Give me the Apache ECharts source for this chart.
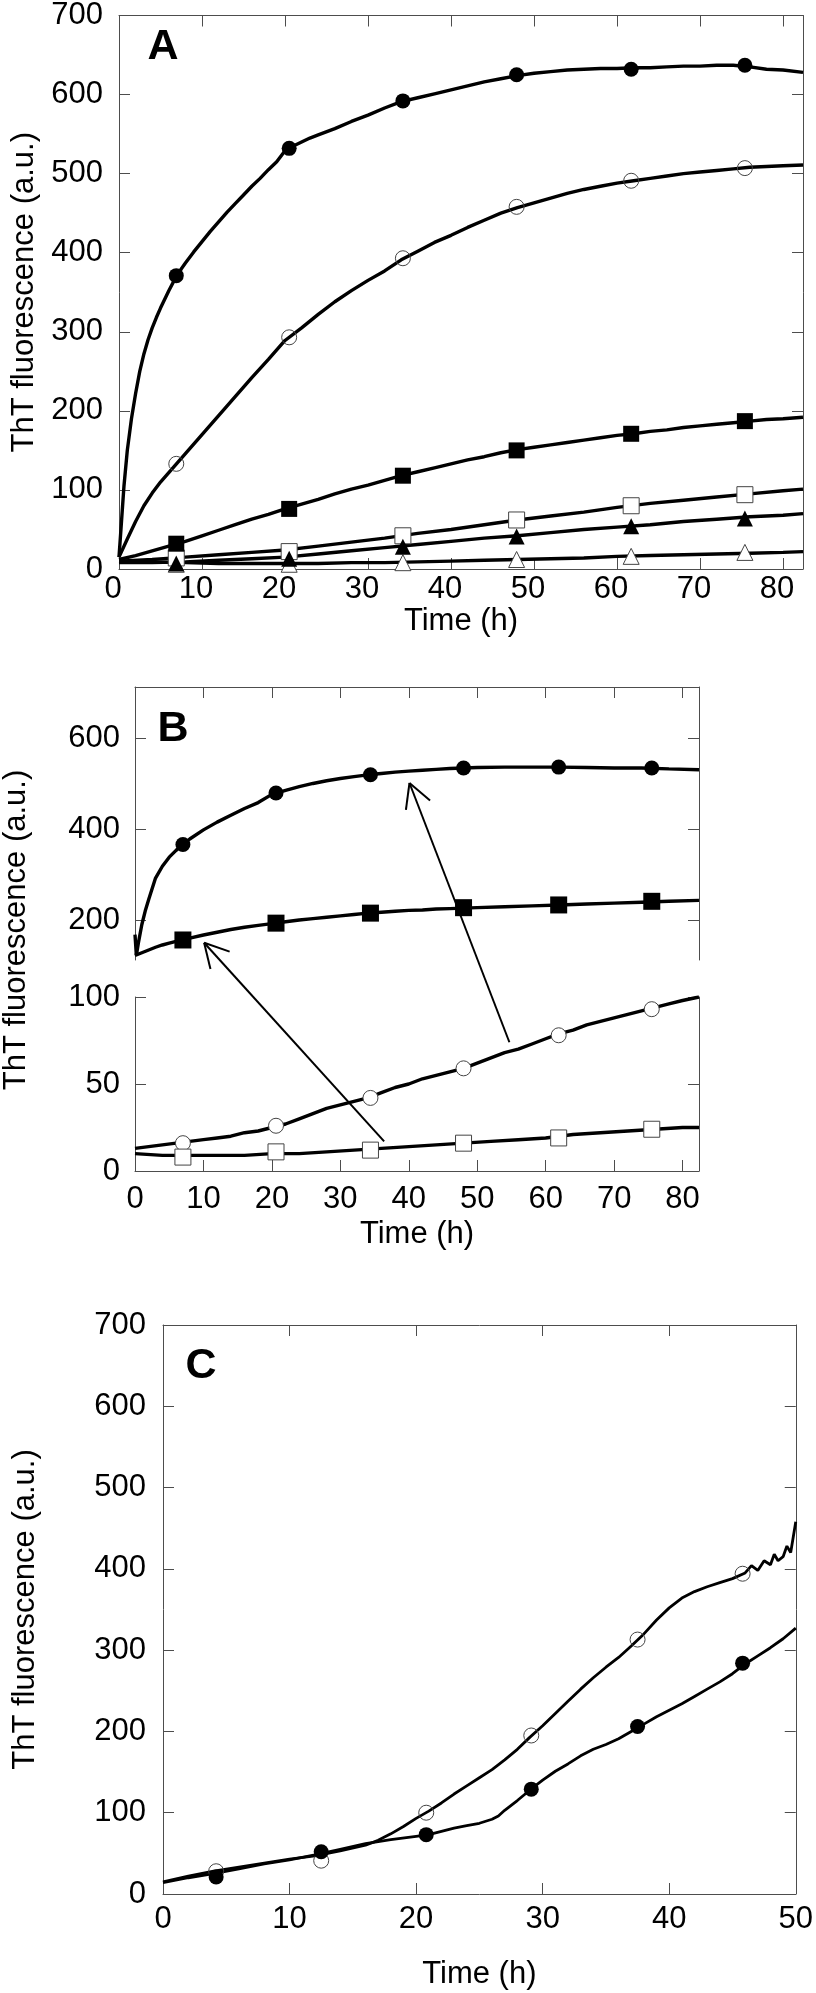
<!DOCTYPE html>
<html><head><meta charset="utf-8">
<script src="https://cdn.jsdelivr.net/npm/echarts@6/dist/echarts.min.js"></script>
<style>html,body{margin:0;padding:0;background:#fff}#c{width:816px;height:1993px}</style>
</head><body><div id="c"></div>
<script>
// ---------------- DATA ----------------
const AB_timeTicks = [0, 10, 20, 30, 40, 50, 60, 70, 80];
const A_yTicks = [0, 100, 200, 300, 400, 500, 600, 700];
const B_upperTicks = [200, 400, 600];
const B_lowerTicks = [0, 50, 100];
const C_timeTicks = [0, 10, 20, 30, 40, 50];
const C_yTicks = [0, 100, 200, 300, 400, 500, 600, 700];

// Panel A curves [time h, ThT a.u.]
const A_filledCircle = [[0,15],[0.3,60],[0.6,105],[1,150],[1.5,190],[2,222],[2.5,250],[3,272],[3.5,290],[4,305],[4.5,318],[5,330],[6,352],[7,372],[8,387],[9,401],[10,414],[11,427],[12,439],[13,451],[14,462],[15,473],[16,484],[17,494],[18,505],[19,515],[20,529],[21,535],[22,540],[23,545],[24,549],[26,557],[28,566],[30,574],[32,583],[34,591],[36,596],[38,601],[40,606],[42,611],[44,616],[46,620],[48,624],[50,627],[52,629],[54,631],[56,632],[58,633],[60,633],[62,634],[64,634],[66,635],[68,636],[70,636],[72,637],[74,637],[76,635],[78,632],[80,631],[82.4,628]];
const A_openCircle = [[0,15],[1,38],[2,60],[3,80],[4,96],[5,110],[6,122],[7,134],[8,146],[10,170],[12,194],[14,218],[16,242],[18,265],[20,289],[22,305],[24,322],[26,338],[28,352],[30,365],[32,377],[34,391],[36,402],[38,413],[40,422],[42,432],[44,441],[46,450],[48,457],[50,463],[52,469],[54,475],[56,480],[58,484],[60,488],[62,491],[64,494],[66,497],[68,500],[70,502],[72,504],[74,506],[76,508],[78,509],[80,510],[82.4,511]];
const A_filledSquare = [[0,12],[2,17],[4,23],[6,29],[8,35],[10,42],[12,49],[14,56],[16,63],[18,69],[20,76],[22,82],[24,88],[26,95],[28,101],[30,106],[32,112],[34,118],[36,123],[38,128],[40,133],[42,138],[44,142],[46,147],[48,151],[50,154],[52,157],[54,160],[56,163],[58,166],[60,169],[62,171],[64,174],[66,176],[68,179],[70,181],[72,183],[74,185],[76,187],[78,189],[80,190],[82.4,192]];
const A_openSquare = [[0,10],[4,12],[8,15],[12,18],[16,21],[20,24],[24,29],[28,34],[32,39],[36,45],[40,50],[44,56],[48,62],[52,67],[56,72],[60,78],[64,83],[68,87],[72,91],[76,95],[80,99],[82.4,101]];
const A_filledTriangle = [[0,8],[4,8],[8,9],[12,11],[16,13],[20,15],[24,19],[28,23],[32,27],[36,31],[40,35],[44,39],[48,42],[52,46],[56,50],[60,53],[64,56],[68,60],[72,63],[76,66],[80,68],[82.4,70]];
const A_openTriangle = [[0,10],[4,9],[8,8],[12,7],[16,7],[20,7],[24,7],[28,8],[32,8],[36,9],[40,10],[44,11],[48,12],[52,13],[56,14],[60,16],[64,17],[68,18],[72,19],[76,20],[80,21],[82.4,22]];
const A_markerTimes = [6.9, 20.5, 34.2, 47.9, 61.7, 75.4];
const A_fcMarkers = [371, 532, 592, 625, 632, 637];
const A_ocMarkers = [133, 293, 393, 458, 491, 507];
const A_fsMarkers = [32, 76, 118, 150, 171, 187];
const A_osMarkers = [14, 22, 42, 62, 80, 94];
const A_ftMarkers = [7, 13, 28, 41, 54, 64];
const A_otMarkers = [6, 6, 8, 12, 16, 21];

// Panel B curves (upper broken segment: filled symbols, lower: open symbols)
const B_filledCircle = [[0,168],[0.2,122],[0.5,150],[1,190],[1.5,220],[2,245],[3,292],[4,318],[5,338],[6,353],[7,366],[8,378],[10,398],[12,415],[14,430],[16,445],[18,458],[20,476],[22,485],[24,493],[26,500],[28,506],[30,511],[32,515],[34,519],[36,522],[38,525],[40,527],[42,529],[44,531],[46,533],[48,534],[50,535],[54,536],[58,536],[62,536],[66,535],[70,534],[74,534],[78,532],[82.4,530]];
const B_filledSquare = [[0,122],[1,128],[2,134],[3,140],[4,145],[5,149],[6,153],[7,156],[8,160],[10,167],[12,173],[14,179],[16,184],[18,188],[20,192],[22,196],[24,200],[26,203],[28,206],[30,209],[32,212],[34,215],[36,217],[38,219],[40,221],[42,222],[44,224],[46,225],[48,226],[50,227],[54,229],[58,231],[62,233],[66,235],[70,237],[74,239],[78,241],[82.4,243]];
const B_openCircle = [[0,13],[2,14],[4,15],[6,16],[8,17],[10,18],[12,19],[14,20],[16,22],[18,23],[20,25],[22,27],[24,30],[26,33],[28,36],[30,38],[32,40],[34,42],[36,45],[38,48],[40,50],[42,53],[44,55],[46,57],[48,59],[50,62],[52,65],[54,68],[56,70],[58,73],[60,76],[62,79],[64,81],[66,84],[68,86],[70,88],[72,90],[74,92],[76,94],[78,96],[80,98],[82.4,100]];
const B_openSquare = [[0,10],[4,9],[8,9],[12,9],[16,9],[20,10],[24,10],[28,11],[32,12],[36,13],[40,14],[44,15],[48,16],[52,17],[56,18],[60,19],[64,21],[68,22],[72,23],[76,24],[80,25],[82.4,25]];
const B_markerTimes = [7.0, 20.6, 34.4, 48.0, 61.9, 75.5];
const B_fcMarkers = [366, 479, 519, 534, 536, 534];
const B_fsMarkers = [156, 193, 215, 227, 233, 241];
const B_ocMarkers = [16, 26, 42, 59, 78, 93];
const B_osMarkers = [8, 11, 12, 16, 19, 24];
// arrows: tail in lower segment -> head in upper segment  [time, value]
const B_arrowTails = [[54.7, 74], [36.4, 17]];
const B_arrowHeads = [[40.1, 501], [10.1, 150]];

// Panel C curves
const C_openCircle = [[0,15],[2,22],[4,28],[6,33],[8,38],[10,43],[12,47],[14,53],[16,60],[17,66],[18,74],[19,83],[20,93],[21,102],[22,112],[23,123],[24,133],[25,143],[26,153],[27,165],[28,178],[29,193],[30,207],[31,222],[32,237],[33,252],[34,266],[35,279],[36,291],[37,305],[38,320],[39,337],[40,352],[41,364],[42,372],[43,378],[44,383],[45,388],[46,395],[46.5,404],[47,398],[47.5,410],[48,405],[48.3,418],[48.6,410],[49,415],[49.3,428],[49.6,420],[50,458]];
const C_filledCircle = [[0,14],[2,20],[4,25],[6,31],[8,37],[10,42],[12,48],[14,55],[16,62],[18,67],[20,71],[21,73],[22,77],[23,81],[24,84],[25,87],[26,92],[26.5,96],[27,103],[28,115],[29,128],[30,140],[31,151],[32,160],[33,170],[34,178],[35,184],[36,191],[37,200],[38,209],[39,218],[40,226],[41,234],[42,243],[43,252],[44,261],[45,271],[46,283],[47,293],[48,303],[49,314],[50,327]];
const C_markerTimes = [4.2, 12.5, 20.8, 29.1, 37.5, 45.8];
const C_ocMarkers = [28, 41, 100, 195, 313, 394];
const C_fcMarkers = [21, 52, 73, 129, 206, 284];

// ---------------- CHART ----------------
const FONT = "'Liberation Sans', Arial, Helvetica, sans-serif";
const AXC = '#4d4d4d';
const FS = 31;

function axis(gridIndex, position, min, max, extra) {
  const a = {
    type: 'value', gridIndex, position, min, max,
    axisLine: { show: true, onZero: false, lineStyle: { color: AXC, width: 1 } },
    axisTick: { show: true, inside: true, length: 11, lineStyle: { color: AXC, width: 1 } },
    splitLine: { show: false },
    axisLabel: { show: false },
  };
  if (extra) {
    if (extra.ticks) { a.axisTick.customValues = extra.ticks; }
    if (extra.labels) {
      a.axisLabel = { show: true, customValues: extra.ticks, color: '#000', fontFamily: FONT, fontSize: FS, margin: extra.margin, padding: extra.padding || 0 };
    }
    if (extra.name) {
      a.name = extra.name; a.nameLocation = 'middle'; a.nameGap = extra.nameGap;
      a.nameTextStyle = { color: '#000', fontFamily: FONT, fontSize: FS };
    }
  }
  return a;
}

const xAxes = [
  axis(0, 'bottom', 0, 82.4, { ticks: AB_timeTicks, labels: true, margin: 5, padding: [0, 12, 0, 0], name: 'Time (h)', nameGap: 28 }),
  axis(0, 'top', 0, 82.4, { ticks: AB_timeTicks }),
  axis(1, 'top', 0, 82.4, { ticks: AB_timeTicks }),
  axis(2, 'bottom', 0, 82.4, { ticks: AB_timeTicks, labels: true, margin: 13, name: 'Time (h)', nameGap: 48 }),
  axis(3, 'bottom', 0, 50, { ticks: C_timeTicks, labels: true, margin: 10, name: 'Time (h)', nameGap: 65 }),
  axis(3, 'top', 0, 50, { ticks: C_timeTicks }),
];
const yAxes = [
  axis(0, 'left', 0, 700, { ticks: A_yTicks, labels: true, margin: 16, padding: [10, 0, 0, 0], name: 'ThT fluorescence (a.u.)', nameGap: 78 }),
  axis(0, 'right', 0, 700, { ticks: A_yTicks }),
  axis(1, 'left', 112, 712, { ticks: B_upperTicks, labels: true, margin: 15 }),
  axis(1, 'right', 112, 712, { ticks: B_upperTicks }),
  axis(2, 'left', 0, 100, { ticks: B_lowerTicks, labels: true, margin: 15 }),
  axis(2, 'right', 0, 100, { ticks: B_lowerTicks }),
  axis(3, 'left', 0, 700, { ticks: C_yTicks, labels: true, margin: 17, name: 'ThT fluorescence (a.u.)', nameGap: 122 }),
  axis(3, 'right', 0, 700, { ticks: C_yTicks }),
];

const series = [];
function line(data, xi, yi, w) {
  series.push({ type: 'line', data, xAxisIndex: xi, yAxisIndex: yi, showSymbol: false, symbol: 'none',
    lineStyle: { color: '#000', width: w || 3.4, opacity: 1 }, z: 2, animation: false, silent: true });
}
function marks(times, vals, xi, yi, symbol, open, size, transparent) {
  series.push({ type: 'scatter', data: times.map((t, i) => [t, vals[i]]), xAxisIndex: xi, yAxisIndex: yi,
    symbol, symbolSize: size,
    itemStyle: open
      ? { color: transparent ? 'rgba(255,255,255,0)' : '#fff', borderColor: '#444', borderWidth: 1, opacity: 1 }
      : { color: '#000', borderWidth: 0, opacity: 1 },
    z: 5, animation: false, silent: true });
}
// A
line(A_filledCircle, 0, 0); line(A_openCircle, 0, 0); line(A_filledSquare, 0, 0);
line(A_openSquare, 0, 0); line(A_filledTriangle, 0, 0); line(A_openTriangle, 0, 0);
marks(A_markerTimes, A_otMarkers, 0, 0, 'triangle', true, 16);
marks(A_markerTimes, A_osMarkers, 0, 0, 'rect', true, 16);
marks(A_markerTimes, A_ftMarkers, 0, 0, 'triangle', false, 16);
marks(A_markerTimes, A_fsMarkers, 0, 0, 'rect', false, 16);
marks(A_markerTimes, A_ocMarkers, 0, 0, 'circle', true, 15, true);
marks(A_markerTimes, A_fcMarkers, 0, 0, 'circle', false, 15);
// B
line(B_filledCircle, 2, 2); line(B_filledSquare, 2, 2);
line(B_openCircle, 3, 4); line(B_openSquare, 3, 4);
marks(B_markerTimes, B_fcMarkers, 2, 2, 'circle', false, 15);
marks(B_markerTimes, B_fsMarkers, 2, 2, 'rect', false, 17);
marks(B_markerTimes, B_ocMarkers, 3, 4, 'circle', true, 15);
marks(B_markerTimes, B_osMarkers, 3, 4, 'rect', true, 16);
// C
line(C_openCircle, 4, 6, 2.8); line(C_filledCircle, 4, 6, 2.8);
marks(C_markerTimes, C_ocMarkers, 4, 6, 'circle', true, 15, true);
marks(C_markerTimes, C_fcMarkers, 4, 6, 'circle', false, 15);

function label(id, text, x, y, size, bold, rot) {
  return { type: 'text', id, x, y, rotation: rot || 0, z: 10, silent: true,
    style: { text, fill: '#000', fontFamily: FONT, fontSize: size, fontWeight: bold ? 'bold' : 'normal', align: 'center', verticalAlign: 'middle' } };
}
const staticGraphic = [
  label('lA', 'A', 163, 47, 43, true),
  label('lB', 'B', 173, 729, 43, true),
  label('lC', 'C', 201, 1366, 43, true),
  label('tB', 'ThT fluorescence (a.u.)', 16, 930, FS, false, Math.PI / 2),
];

const option = {
  backgroundColor: '#fff',
  animation: false,
  grid: [
    { left: 119, top: 9, width: 684, height: 560 },
    { left: 135, top: 687, width: 564, height: 273 },
    { left: 135, top: 997, width: 564, height: 174 },
    { left: 163, top: 1325, width: 637, height: 569 },
  ],
  xAxis: xAxes, yAxis: yAxes, series,
  graphic: staticGraphic,
};
const chart = echarts.init(document.getElementById('c'), null, { renderer: 'canvas' });
chart.setOption(option);

// arrows across the broken axis of panel B, positioned via the axes' own scales
const arrowEls = [];
B_arrowTails.forEach((tail, i) => {
  const p0 = chart.convertToPixel({ xAxisIndex: 3, yAxisIndex: 4 }, tail);
  const p1 = chart.convertToPixel({ xAxisIndex: 2, yAxisIndex: 2 }, B_arrowHeads[i]);
  const ang = Math.atan2(p0[1] - p1[1], p0[0] - p1[0]);
  const L = 27, da = 0.5;
  const st = { stroke: '#000', lineWidth: 2 };
  arrowEls.push({ type: 'line', id: 'ar' + i, z: 8, silent: true, shape: { x1: p0[0], y1: p0[1], x2: p1[0], y2: p1[1] }, style: st });
  [ -da, da ].forEach((d, k) => {
    arrowEls.push({ type: 'line', id: 'ah' + i + '_' + k, z: 8, silent: true,
      shape: { x1: p1[0], y1: p1[1], x2: p1[0] + L * Math.cos(ang + d), y2: p1[1] + L * Math.sin(ang + d) }, style: st });
  });
});
chart.setOption({ graphic: staticGraphic.concat(arrowEls) });
</script></body></html>
